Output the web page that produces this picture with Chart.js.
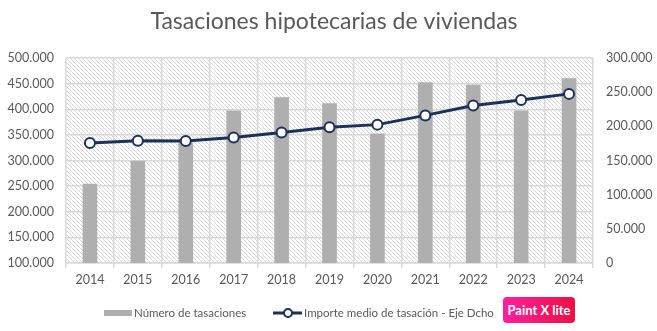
<!DOCTYPE html>
<html>
<head>
<meta charset="utf-8">
<script src="https://cdn.jsdelivr.net/npm/chart.js@4"></script>
<style>
  html, body { margin: 0; padding: 0; background: #fff; }
  #wrap { position: relative; width: 657px; height: 331px; }
  #badge {
    position: absolute; left: 503px; top: 297px; width: 72px; height: 26px;
    border-radius: 4px; background: linear-gradient(90deg, #ff1f9e, #ee1043);
    color: #fff; font: bold 13px Lato, sans-serif; line-height: 26px; text-align: center;
  }
</style>
</head>
<body>
<div id="wrap">
  <canvas id="chart" width="657" height="331"></canvas>
  <div id="badge">Paint X lite</div>
</div>
<script>
const years = ['2014', '2015', '2016', '2017', '2018', '2019', '2020', '2021', '2022', '2023', '2024'];
const numTasaciones = [254000, 299000, 334000, 397000, 423000, 411000, 352000, 452000, 447000, 397000, 460000];
const importeMedio = [175500, 179000, 178500, 183500, 191000, 198500, 202500, 216000, 230500, 238500, 247500];
const leftTicks = [100000, 150000, 200000, 250000, 300000, 350000, 400000, 450000, 500000];
const rightTicks = [0, 50000, 100000, 150000, 200000, 250000, 300000];

const titleText = 'Tasaciones hipotecarias de viviendas';
const barLabel = 'Número de tasaciones';
const lineLabel = 'Importe medio de tasación - Eje Dcho';
const textColor = '#595959';
const gridColor = '#d9d9d9';
const barColor = '#afafaf';
const lineColor = '#1d3058';
const fontFamily = 'Lato, "Open Sans", sans-serif';

function fmt(v) {
  return String(v).replace(/\B(?=(\d{3})+(?!\d))/g, '.');
}

// diagonal hatch used as plot background
function makeHatch() {
  const c = document.createElement('canvas');
  c.width = 4; c.height = 4;
  const g = c.getContext('2d');
  g.fillStyle = '#ffffff';
  g.fillRect(0, 0, 4, 4);
  g.strokeStyle = '#d6d6d6';
  g.lineWidth = 1;
  g.beginPath();
  g.moveTo(-1, -1); g.lineTo(5, 5);
  g.moveTo(-1, 3); g.lineTo(1, 5);
  g.moveTo(3, -1); g.lineTo(5, 1);
  g.stroke();
  return g.createPattern(c, 'repeat');
}

const decor = {
  id: 'decor',
  beforeDraw(chart) {
    const { ctx, chartArea: a } = chart;
    ctx.save();
    ctx.fillStyle = makeHatch();
    ctx.fillRect(a.left, a.top, a.right - a.left, a.bottom - a.top);
    ctx.restore();
  },
  afterDraw(chart) {
    const ctx = chart.ctx;
    ctx.save();
    ctx.fillStyle = textColor;
    ctx.textBaseline = 'middle';
    ctx.textAlign = 'center';
    ctx.font = '23px ' + fontFamily;
    ctx.fillText(titleText, 334, 22);

    // legend
    ctx.font = '11.5px ' + fontFamily;
    ctx.textAlign = 'left';
    ctx.fillStyle = barColor;
    ctx.fillRect(104, 310, 28, 6);
    ctx.fillStyle = textColor;
    ctx.fillText(barLabel, 134, 313);

    ctx.strokeStyle = lineColor;
    ctx.lineWidth = 3;
    ctx.beginPath();
    ctx.moveTo(273, 313); ctx.lineTo(302, 313);
    ctx.stroke();
    ctx.beginPath();
    ctx.arc(288, 313, 4, 0, Math.PI * 2);
    ctx.fillStyle = '#fff';
    ctx.fill();
    ctx.lineWidth = 2;
    ctx.stroke();
    ctx.fillStyle = textColor;
    ctx.fillText(lineLabel, 304, 313);
    ctx.restore();
  }
};

new Chart(document.getElementById('chart'), {
  type: 'bar',
  data: {
    labels: years,
    datasets: [
      {
        type: 'line',
        label: lineLabel,
        data: importeMedio,
        yAxisID: 'y1',
        borderColor: lineColor,
        borderWidth: 3,
        pointRadius: 5,
        pointBorderWidth: 2,
        pointBackgroundColor: '#ffffff',
        pointBorderColor: lineColor,
        tension: 0,
        order: 0
      },
      {
        label: barLabel,
        data: numTasaciones,
        yAxisID: 'y',
        backgroundColor: barColor,
        barThickness: 14,
        order: 1
      }
    ]
  },
  options: {
    responsive: false,
    animation: false,
    layout: { padding: { top: 58, left: 0, right: 0, bottom: 0 } },
    plugins: {
      legend: { display: false },
      title: { display: false },
      tooltip: { enabled: false }
    },
    scales: {
      x: {
        offset: true,
        grid: { color: gridColor, lineWidth: 1.5, offset: true, tickLength: 5 },
        border: { color: gridColor, width: 1.5 },
        ticks: { color: textColor, font: { family: fontFamily, size: 12.5 }, padding: 4 },
        afterFit(s) { s.height = 68; }
      },
      y: {
        position: 'left',
        min: 100000,
        max: 500000,
        afterBuildTicks(s) { s.ticks = leftTicks.map(v => ({ value: v })); },
        grid: { color: gridColor, lineWidth: 1.5, drawTicks: false },
        border: { display: false },
        ticks: { color: textColor, font: { family: fontFamily, size: 12.5 }, padding: 12, callback: v => fmt(v) },
        afterFit(s) { s.width = 66; }
      },
      y1: {
        position: 'right',
        min: 0,
        max: 300000,
        afterBuildTicks(s) { s.ticks = rightTicks.map(v => ({ value: v })); },
        grid: { drawOnChartArea: false, drawTicks: false },
        border: { display: false },
        ticks: { color: textColor, font: { family: fontFamily, size: 12.5 }, padding: 13, callback: v => fmt(v) },
        afterFit(s) { s.width = 64; }
      }
    }
  },
  plugins: [decor]
});
</script>
</body>
</html>
